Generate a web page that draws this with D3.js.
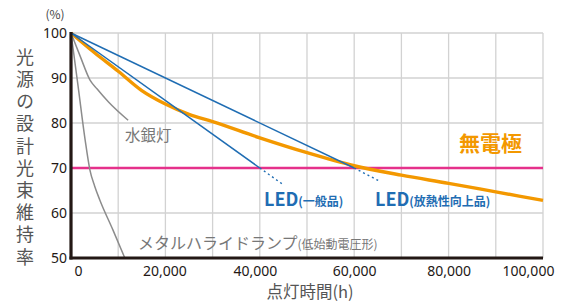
<!DOCTYPE html>
<html><head><meta charset="utf-8">
<script src="https://cdn.jsdelivr.net/npm/d3@7"></script>
<style>
html,body{margin:0;padding:0;background:#fff;}
text{font-family:"Noto Sans CJK JP","Noto Sans",sans-serif;}
</style></head>
<body><svg id="c" width="569" height="304"></svg>
<script>
// ---- data ----
const xTicks = [0, 20000, 40000, 60000, 80000, 100000];
const xTickLabels = ["0", "20,000", "40,000", "60,000", "80,000", "100,000"];
const yTicks = [50, 60, 70, 80, 90, 100];
const xGrid = [10000,20000,30000,40000,50000,60000,70000,80000,90000,100000];
const yGrid = [60, 80, 90, 100];
const threshold = 70;

const electrodeless = [[0,100],[5000,95.6],[10000,91.5],[15000,87.2],[20000,84.2],[25000,81.9],[30000,80.3],[40000,76.7],[50000,73.4],[60000,70.5],[70000,68.4],[80000,66.6],[90000,64.7],[100000,62.8]];
const ledGeneral = [[0,100],[40000,70]];
const ledGeneralExt = [[40000,70],[44700,66.5]];
const ledHeat = [[0,100],[60000,70]];
const ledHeatExt = [[60000,70],[65500,67.0]];
const mercury = [[0,100],[2000,94.7],[4000,89.6],[5500,87.6],[8000,84.6],[12100,80.6]];
const metalHalide = [[0,100],[1500,88.2],[3000,76.2],[4000,69.6],[5000,66],[6100,62.9],[8900,56.2],[11400,50]];

// ---- layout ----
const svg = d3.select("#c");
const x = d3.scaleLinear().domain([0,100000]).range([71,543]);
const y = d3.scaleLinear().domain([50,100]).range([258,33]);

// grid
svg.append("g").selectAll("line").data(xGrid).join("line")
  .attr("x1",d=>x(d)).attr("x2",d=>x(d)).attr("y1",y(100)).attr("y2",y(50))
  .attr("stroke","#d2d2d2").attr("stroke-width",1.3);
svg.append("g").selectAll("line").data(yGrid).join("line")
  .attr("x1",x(0)).attr("x2",x(100000)).attr("y1",d=>y(d)).attr("y2",d=>y(d))
  .attr("stroke","#d2d2d2").attr("stroke-width",1.3);

// threshold
svg.append("line").attr("x1",x(0)).attr("x2",x(100000)).attr("y1",y(threshold)).attr("y2",y(threshold))
  .attr("stroke","#e5318b").attr("stroke-width",2.4);

const line = d3.line().x(d=>x(d[0])).y(d=>y(d[1]));
const curve = d3.line().x(d=>x(d[0])).y(d=>y(d[1])).curve(d3.curveMonotoneX);

svg.append("path").attr("d",curve(mercury)).attr("fill","none").attr("stroke","#8c8c8c").attr("stroke-width",1.5);
svg.append("path").attr("d",curve(metalHalide)).attr("fill","none").attr("stroke","#8c8c8c").attr("stroke-width",1.5);
svg.append("path").attr("d",curve(electrodeless)).attr("fill","none").attr("stroke","#f39800").attr("stroke-width",3.4);
svg.append("path").attr("d",line(ledHeat)).attr("fill","none").attr("stroke","#1f6db3").attr("stroke-width",1.5);
svg.append("path").attr("d",line(ledGeneral)).attr("fill","none").attr("stroke","#1f6db3").attr("stroke-width",1.5);
svg.append("path").attr("d",line(ledGeneralExt)).attr("fill","none").attr("stroke","#1f6db3").attr("stroke-width",1.4).attr("stroke-dasharray","2,3");
svg.append("path").attr("d",line(ledHeatExt)).attr("fill","none").attr("stroke","#1f6db3").attr("stroke-width",1.4).attr("stroke-dasharray","2,3");

// axes lines
svg.append("line").attr("x1",x(0)).attr("x2",x(0)).attr("y1",y(100)-1).attr("y2",y(50)+1.5)
  .attr("stroke","#231815").attr("stroke-width",3.2);
svg.append("line").attr("x1",x(0)-1.5).attr("x2",x(100000)).attr("y1",y(50)).attr("y2",y(50))
  .attr("stroke","#231815").attr("stroke-width",3.2);

// x axis labels
const xa = svg.append("g").attr("transform",`translate(0,${y(50)})`)
  .call(d3.axisBottom(x).tickValues(xTicks).tickSize(0).tickPadding(8).tickFormat((d,i)=>xTickLabels[i]));
xa.select(".domain").remove();
xa.selectAll("text").attr("font-size",14).attr("fill","#231815")
  .style("font-family",'"Noto Sans","Noto Sans CJK JP",sans-serif')
  .attr("dx",(d,i)=> i===0?7:(i===5?-15:(i===2?-5:(i===1?-1:0))));

// y axis labels
const ya = svg.append("g").attr("transform",`translate(${x(0)},0)`)
  .call(d3.axisLeft(y).tickValues(yTicks).tickSize(0).tickPadding(4));
ya.select(".domain").remove();
ya.selectAll("text").attr("font-size",14).attr("fill","#231815")
  .style("font-family",'"Noto Sans","Noto Sans CJK JP",sans-serif');

svg.append("text").attr("x",55).attr("y",19).attr("text-anchor","middle").attr("font-size",12).attr("fill","#444").text("(%)");

// y title vertical (single text, vertical writing)
svg.append("text").attr("x",25).attr("y",48)
  .style("writing-mode","vertical-rl").style("letter-spacing","4.2px")
  .attr("font-size",18).attr("fill","#555").text("光源の設計光束維持率");

// x title
svg.append("text").attr("x",310).attr("y",298).attr("text-anchor","middle").attr("font-size",16.5).attr("fill","#555").text("点灯時間(h)");

// series labels
svg.append("text").attr("x",125).attr("y",141).attr("font-size",15.5).attr("fill","#777").text("水銀灯");
const mh = svg.append("text").attr("x",138).attr("y",249).attr("fill","#777");
mh.append("tspan").attr("font-size",16).text("メタルハライドランプ");
mh.append("tspan").attr("font-size",12).text("(低始動電圧形)");

const l1 = svg.append("text").attr("x",264).attr("y",206).attr("fill","#1f6db3").attr("font-weight","bold");
l1.append("tspan").attr("font-size",18).text("LED");
l1.append("tspan").attr("font-size",12).text("(一般品)");
const l2 = svg.append("text").attr("x",375).attr("y",206).attr("fill","#1f6db3").attr("font-weight","bold");
l2.append("tspan").attr("font-size",18).text("LED");
l2.append("tspan").attr("font-size",12).text("(放熱性向上品)");

svg.append("text").attr("x",459).attr("y",151).attr("font-size",21).attr("font-weight","bold").attr("fill","#f39800").text("無電極");
</script></body></html>
